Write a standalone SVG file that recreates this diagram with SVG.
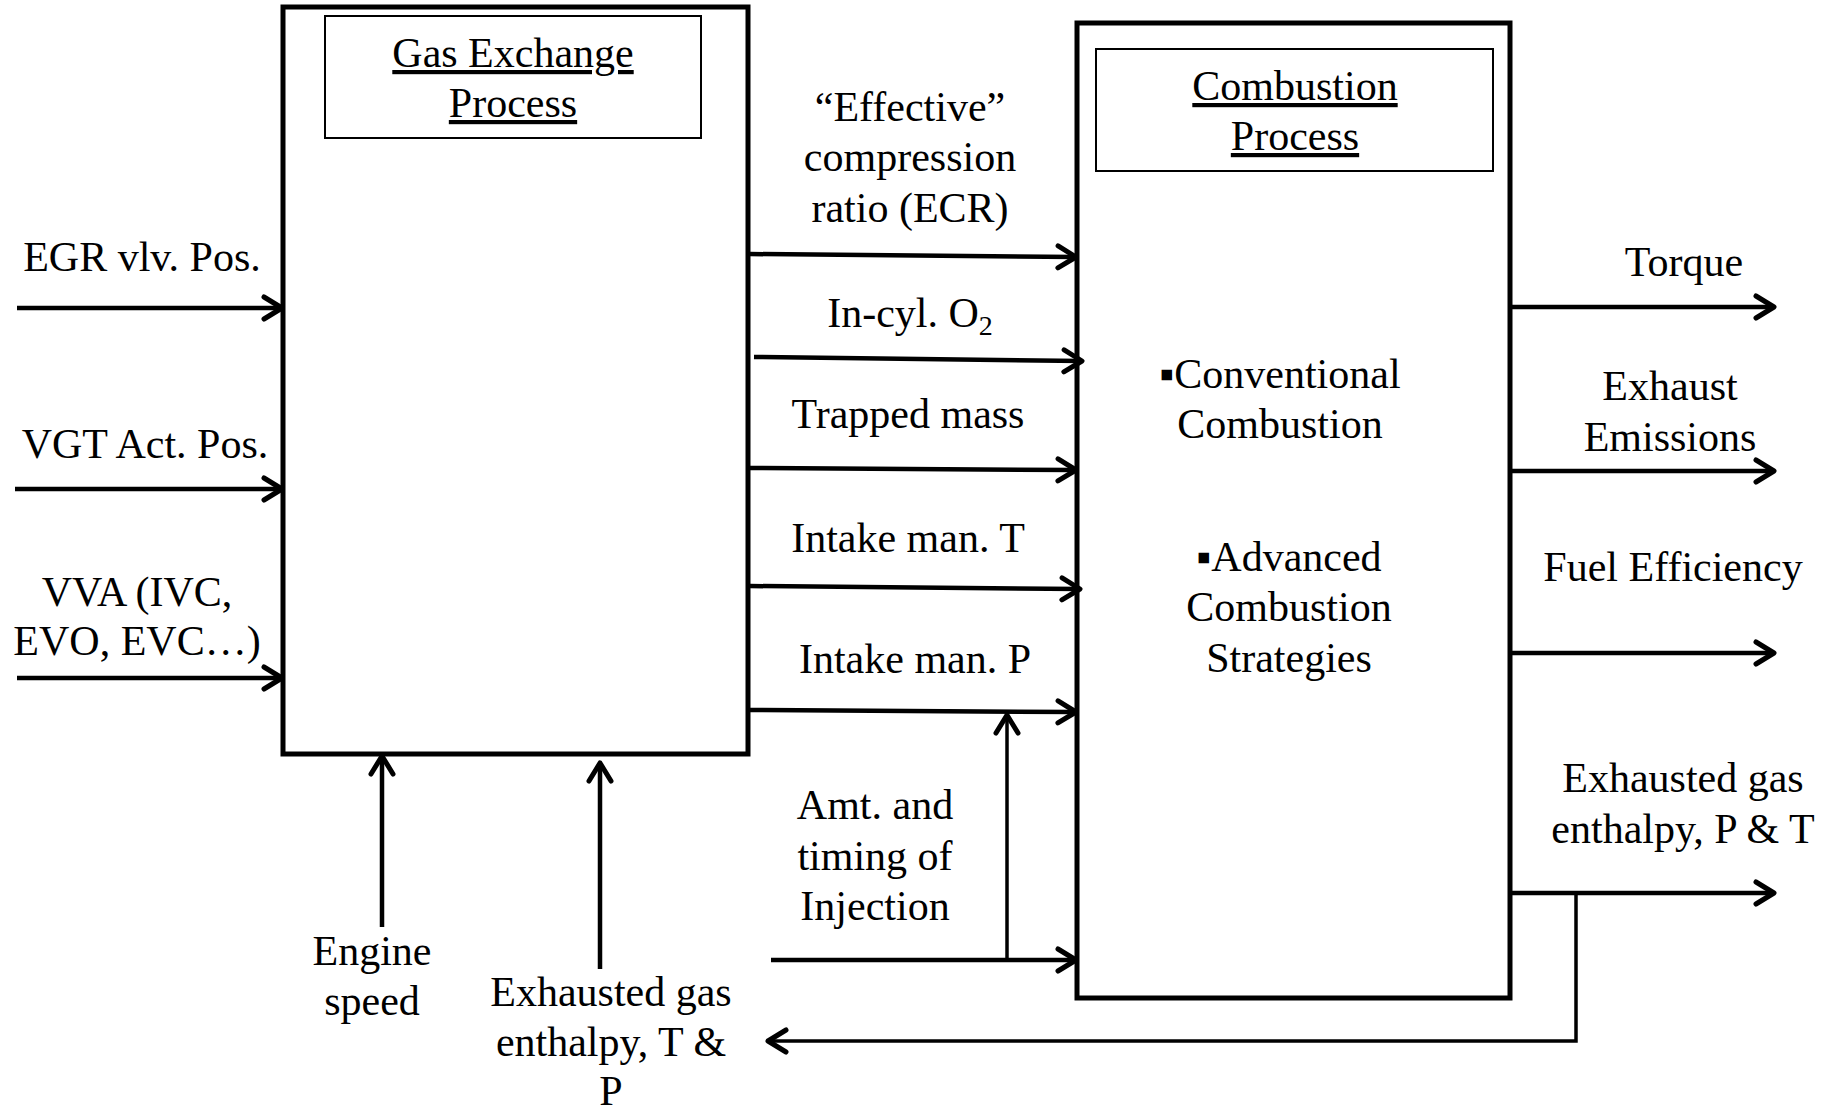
<svg xmlns="http://www.w3.org/2000/svg" width="1824" height="1107" viewBox="0 0 1824 1107">
<defs>
<style>
text{font-family:"Liberation Serif","Times New Roman",serif;font-size:42px;fill:#000;text-anchor:middle}
.box{fill:#fff;stroke:#000;stroke-width:5}
.inner{fill:#fff;stroke:#000;stroke-width:2}
.c{fill:none;stroke:#000;stroke-width:4.5}
.t{fill:none;stroke:#000;stroke-width:3.5}
.u{text-decoration:underline}
</style>
<marker id="ah" viewBox="0 0 26 28" markerWidth="26" markerHeight="28" refX="21" refY="14" orient="auto" markerUnits="userSpaceOnUse">
<path d="M3,3 L21,14 L3,25" fill="none" stroke="#000" stroke-width="5" stroke-linecap="round" stroke-linejoin="round"/>
</marker>
</defs>
<rect width="1824" height="1107" fill="#fff"/>
<g id="gas-exchange">
<rect class="box" x="283" y="7" width="465" height="747"/>
<rect class="inner" x="325" y="16" width="376" height="122"/>
<text class="u" x="513" y="67">Gas Exchange</text>
<text class="u" x="513" y="117">Process</text>
</g>
<g id="combustion">
<rect class="box" x="1077" y="23" width="433" height="975"/>
<rect class="inner" x="1096" y="49" width="397" height="122"/>
<text class="u" x="1295" y="100">Combustion</text>
<text class="u" x="1295" y="150">Process</text>
<text x="1280" y="388">▪Conventional</text>
<text x="1280" y="438">Combustion</text>
<text x="1289" y="571">▪Advanced</text>
<text x="1289" y="621">Combustion</text>
<text x="1289" y="672">Strategies</text>
</g>
<g id="labels">
<text x="142" y="271">EGR vlv. Pos.</text>
<text x="145" y="458">VGT Act. Pos.</text>
<text x="137" y="606">VVA (IVC,</text>
<text x="137" y="655">EVO, EVC…)</text>
<text x="372" y="965">Engine</text>
<text x="372" y="1015">speed</text>
<text x="611" y="1006">Exhausted gas</text>
<text x="611" y="1056">enthalpy, T &amp;</text>
<text x="611" y="1105">P</text>
<text x="910" y="121">“Effective”</text>
<text x="910" y="171">compression</text>
<text x="910" y="222">ratio (ECR)</text>
<text x="910" y="327">In-cyl. O<tspan font-size="28" dy="8">2</tspan></text>
<text x="908" y="428">Trapped mass</text>
<text x="908" y="552">Intake man. T</text>
<text x="915" y="673">Intake man. P</text>
<text x="875" y="819">Amt. and</text>
<text x="875" y="870">timing of</text>
<text x="875" y="920">Injection</text>
<text x="1684" y="276">Torque</text>
<text x="1670" y="400">Exhaust</text>
<text x="1670" y="451">Emissions</text>
<text x="1673" y="581">Fuel Efficiency</text>
<text x="1683" y="792">Exhausted gas</text>
<text x="1683" y="843">enthalpy, P &amp; T</text>
</g>
<g id="connectors">
<line class="c" x1="17" y1="308" x2="282" y2="308" marker-end="url(#ah)"/>
<line class="c" x1="15" y1="489" x2="282" y2="489" marker-end="url(#ah)"/>
<line class="c" x1="17" y1="678" x2="282" y2="678" marker-end="url(#ah)"/>
<line class="c" x1="382" y1="927" x2="382" y2="756" marker-end="url(#ah)"/>
<line class="c" x1="600" y1="969" x2="600" y2="763" marker-end="url(#ah)"/>
<line class="c" x1="750" y1="254" x2="1076" y2="257" marker-end="url(#ah)"/>
<line class="c" x1="754" y1="357" x2="1082" y2="361" marker-end="url(#ah)"/>
<line class="c" x1="750" y1="468" x2="1076" y2="470" marker-end="url(#ah)"/>
<line class="c" x1="750" y1="586" x2="1080" y2="589" marker-end="url(#ah)"/>
<line class="c" x1="750" y1="710" x2="1076" y2="712" marker-end="url(#ah)"/>
<line class="c" x1="771" y1="960" x2="1076" y2="960" marker-end="url(#ah)"/>
<line class="t" x1="1007" y1="960" x2="1007" y2="715" marker-end="url(#ah)"/>
<line class="c" x1="1512" y1="307" x2="1774" y2="307" marker-end="url(#ah)"/>
<line class="c" x1="1512" y1="471" x2="1774" y2="471" marker-end="url(#ah)"/>
<line class="c" x1="1512" y1="653" x2="1774" y2="653" marker-end="url(#ah)"/>
<line class="c" x1="1512" y1="893" x2="1774" y2="893" marker-end="url(#ah)"/>
<polyline class="t" points="1516,893 1576,893 1576,1041 768,1041" marker-end="url(#ah)"/>
</g>
</svg>
